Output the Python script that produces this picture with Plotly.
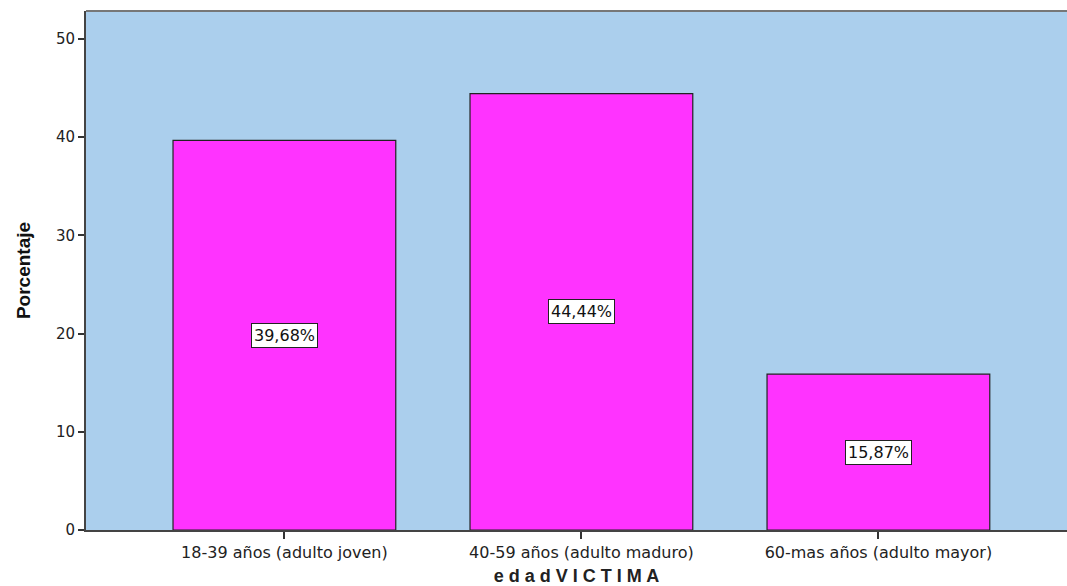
import plotly.graph_objects as go

categorias = ["18-39 años (adulto joven)", "40-59 años (adulto maduro)", "60-mas años (adulto mayor)"]
porcentajes = [39.68, 44.44, 15.87]
etiquetas = ["39,68%", "44,44%", "15,87%"]
marcas_y = [0, 10, 20, 30, 40, 50]

fuente = "DejaVu Sans, Verdana, Arial"

fig = go.Figure()
fig.add_trace(go.Bar(
    x=list(range(len(categorias))),
    y=porcentajes,
    width=0.75,
    marker=dict(color="#FF33FF", line=dict(color="#222222", width=1.2)),
    hoverinfo="skip",
))

for i, (v, t) in enumerate(zip(porcentajes, etiquetas)):
    fig.add_annotation(
        x=i, y=v / 2, text=t, showarrow=False,
        bgcolor="white", bordercolor="#222222", borderwidth=1, borderpad=2,
        font=dict(family=fuente, size=16, color="#111111"),
    )

fig.update_layout(
    width=1067, height=586,
    margin=dict(l=86, r=0, t=11, b=56),
    paper_bgcolor="white",
    plot_bgcolor="#ABCFED",
    showlegend=False,
    font=dict(family=fuente, size=15, color="#222222"),
    xaxis=dict(
        range=[-0.668, 2.635],
        tickmode="array", tickvals=list(range(len(categorias))), ticktext=categorias,
        tickfont=dict(family=fuente, size=16, color="#222222"),
        ticks="outside", ticklen=7, tickcolor="#333333", tickwidth=1.5,
        showgrid=False, zeroline=False,
        showline=True, linecolor="#444444", linewidth=2,
        title=dict(text="<b>e d a d V I C T I M A</b>",
                   font=dict(family="Arial, Liberation Sans", size=18, color="#222222"), standoff=10),
    ),
    yaxis=dict(
        range=[0, 52.85],
        tickmode="array", tickvals=marcas_y,
        tickfont=dict(family=fuente, size=15, color="#222222"),
        ticks="outside", ticklen=6, tickcolor="#333333", tickwidth=1.5,
        showgrid=False, zeroline=False,
        showline=True, linecolor="#444444", linewidth=2,
        title=dict(text="<b>Porcentaje</b>",
                   font=dict(size=19, family="Liberation Sans Narrow, Arial Narrow, Arial", color="#111111"),
                   standoff=20),
    ),
)

# top border of the plot area
fig.add_shape(type="line", xref="paper", yref="paper", x0=0, x1=1, y0=1, y1=1,
              line=dict(color="#777777", width=2))

fig.write_html("out.html")
